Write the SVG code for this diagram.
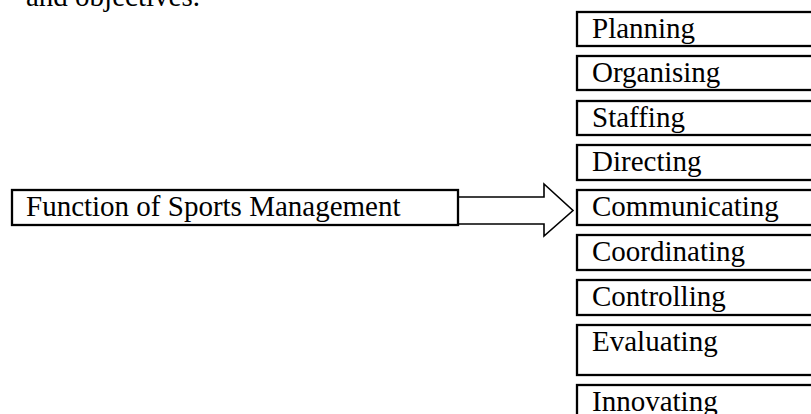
<svg xmlns="http://www.w3.org/2000/svg" width="811" height="414" viewBox="0 0 811 414">
<style>
.box{fill:#ffffff;stroke:#000000;stroke-width:2.3}
.t{font-family:"Liberation Serif","Times New Roman",serif;font-size:29px;fill:#000000}
.arrow{fill:#ffffff;stroke:#000000;stroke-width:1.6;stroke-linejoin:miter}
</style>
<rect width="811" height="414" fill="#ffffff"/>
<text class="t" x="26" y="6">and objectives.</text>
<g id="connectors">
<polygon class="arrow" points="458,197 544,197 544,184 573,210.5 544,236 544,224 458,224"/>
</g>
<g id="source">
<rect class="box" x="12" y="190" width="446" height="35"/>
<text class="t" x="26" y="216">Function of Sports Management</text>
</g>
<g id="planning">
<rect class="box" x="577" y="12" width="260" height="34"/>
<text class="t" x="592" y="38">Planning</text>
</g>
<g id="organising">
<rect class="box" x="577" y="56" width="260" height="34"/>
<text class="t" x="592" y="82">Organising</text>
</g>
<g id="staffing">
<rect class="box" x="577" y="101" width="260" height="34"/>
<text class="t" x="592" y="127">Staffing</text>
</g>
<g id="directing">
<rect class="box" x="577" y="145" width="260" height="35"/>
<text class="t" x="592" y="171">Directing</text>
</g>
<g id="communicating">
<rect class="box" x="577" y="190" width="260" height="35"/>
<text class="t" x="592" y="216">Communicating</text>
</g>
<g id="coordinating">
<rect class="box" x="577" y="235" width="260" height="35"/>
<text class="t" x="592" y="261">Coordinating</text>
</g>
<g id="controlling">
<rect class="box" x="577" y="280" width="260" height="35"/>
<text class="t" x="592" y="306">Controlling</text>
</g>
<g id="evaluating">
<rect class="box" x="577" y="325" width="260" height="50"/>
<text class="t" x="592" y="351">Evaluating</text>
</g>
<g id="innovating">
<rect class="box" x="577" y="385" width="260" height="50"/>
<text class="t" x="592" y="411">Innovating</text>
</g>
</svg>
